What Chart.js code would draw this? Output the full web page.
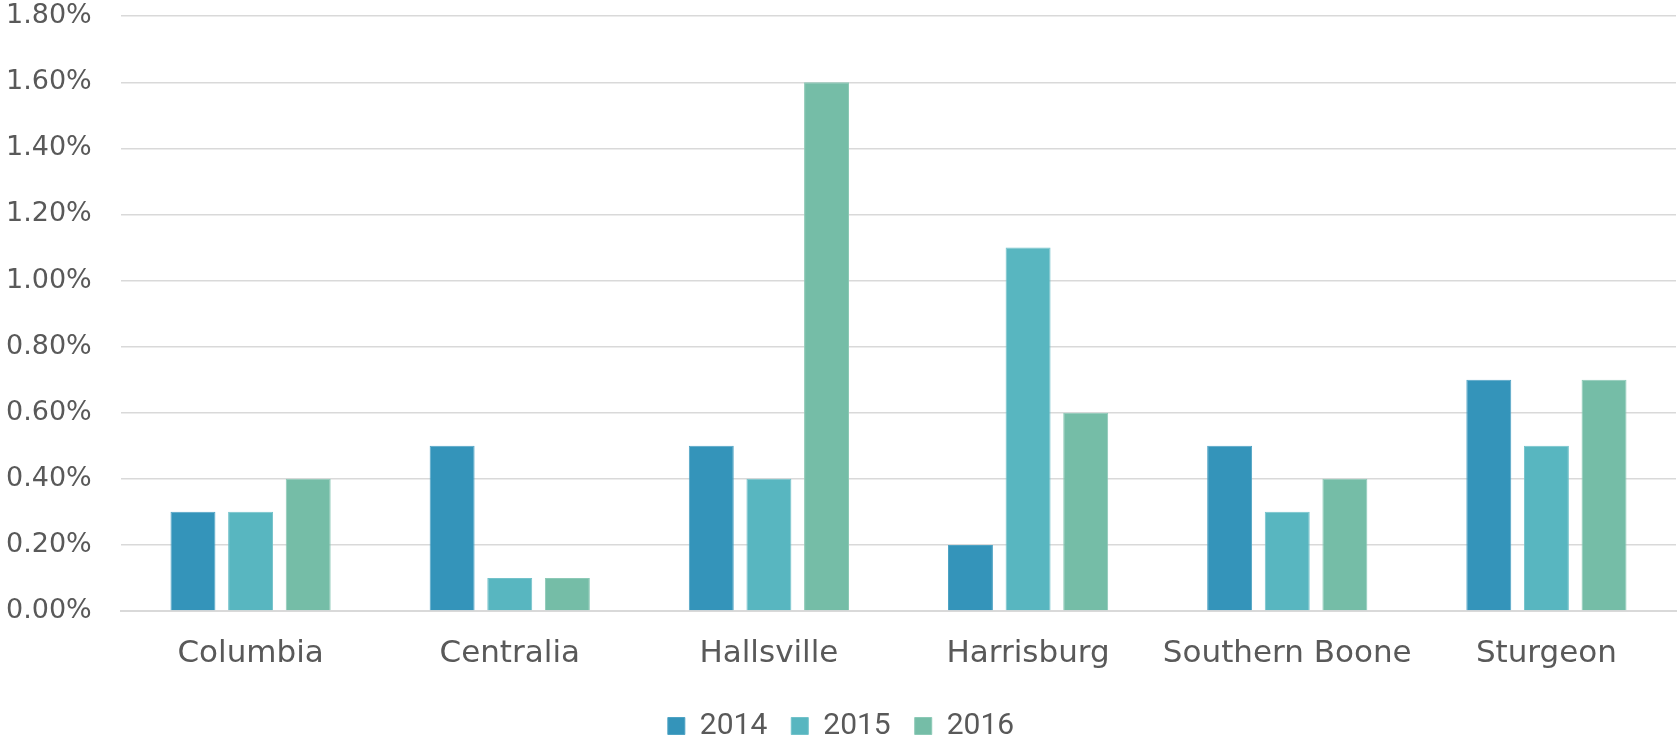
<!DOCTYPE html>
<html>
<head>
<meta charset="utf-8">
<script src="https://cdn.jsdelivr.net/npm/chart.js@4/dist/chart.umd.min.js"></script>
<style>
  html, body { margin: 0; padding: 0; background: #fff; }
  #wrap { width: 1677px; height: 743px; position: relative; }
</style>
</head>
<body>
<div id="wrap"><canvas id="myChart"></canvas></div>
<script>
// données (en %)
const towns = ['Columbia', 'Centralia', 'Hallsville', 'Harrisburg', 'Southern Boone', 'Sturgeon'];
const years = ['2014', '2015', '2016'];
const values2014 = [0.3, 0.5, 0.5, 0.2, 0.5, 0.7];
const values2015 = [0.3, 0.1, 0.4, 1.1, 0.3, 0.5];
const values2016 = [0.4, 0.1, 1.6, 0.6, 0.4, 0.7];
const yTicks = [0, 0.2, 0.4, 0.6, 0.8, 1.0, 1.2, 1.4, 1.6, 1.8];

const colors = ['#3494BA', '#58B6C0', '#75BDA7'];
const borders = ['#4FA3C4', '#72C2CA', '#8CC9B6'];
const textColor = '#595959';

const ctx = document.getElementById('myChart');
const data = {
    labels: towns,
    datasets: [values2014, values2015, values2016].map(function(vals, i){
        return {
            label: years[i],
            data: vals,
            backgroundColor: colors[i],
            borderColor: borders[i],
            borderWidth: 1,
            categoryPercentage: 0.667,
            barPercentage: 0.78
        };
    })
};

const options = {
    responsive: true,
    maintainAspectRatio: false,
    animation: false,
    layout: { padding: { left: 6, right: 1, top: 0, bottom: -8 } },
    plugins: {
        tooltip: { enabled: false },
        legend: {
            position: 'bottom',
            labels: {
                boxWidth: 17,
                boxHeight: 17,
                padding: 24,
                color: textColor,
                font: { family: 'Roboto', size: 30 }
            }
        }
    },
    scales: {
        x: {
            grid: { display: false },
            border: { color: '#d9d9d9', width: 2 },
            afterFit: function(scale){ scale.height = 76; },
            ticks: {
                color: textColor,
                padding: 16,
                maxRotation: 0,
                minRotation: 0,
                autoSkip: false,
                font: { family: 'DejaVu Sans', size: 31 }
            }
        },
        y: {
            min: 0,
            max: 1.8,
            afterBuildTicks: function(scale){
                scale.ticks = yTicks.map(function(v){ return { value: v }; });
            },
            afterFit: function(scale){ scale.width = 115; },
            grid: { color: '#d9d9d9', lineWidth: 1.5, drawTicks: false },
            border: { display: false },
            ticks: {
                color: textColor,
                padding: 0,
                crossAlign: 'far',
                font: { family: 'DejaVu Sans', size: 27 },
                callback: function(v){ return v.toFixed(2) + '%'; }
            }
        }
    }
};

new Chart(ctx, {
    type: 'bar',
    data: data,
    options: options
});
</script>
</body>
</html>
